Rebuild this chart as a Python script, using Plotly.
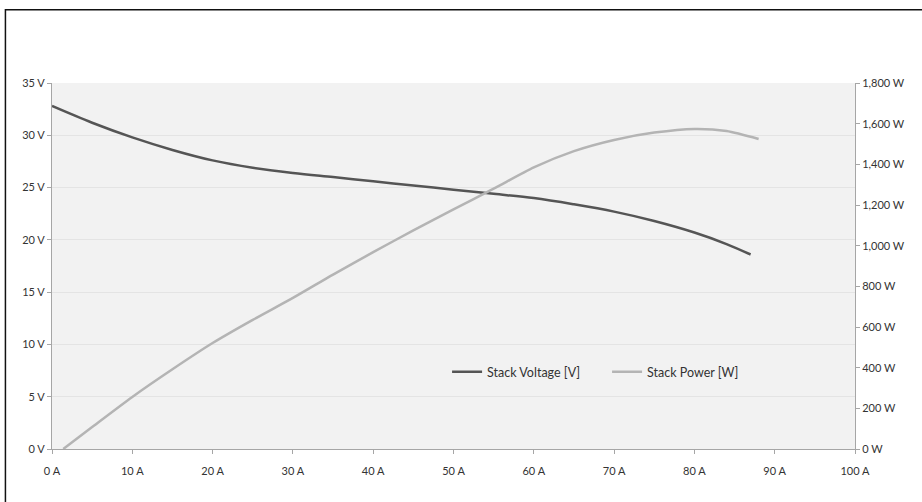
import plotly.graph_objects as go

current_v = [0, 5, 10, 15, 20, 25, 30, 35, 40, 45, 50, 55, 60, 65, 70, 75, 80, 84, 87]
voltage = [32.8, 31.2, 29.8, 28.6, 27.6, 26.9, 26.4, 26.0, 25.6, 25.2, 24.8, 24.4, 24.0, 23.4, 22.7, 21.8, 20.7, 19.6, 18.6]

current_p = [1.4, 5, 10, 15, 20, 25, 30, 35, 40, 45, 50, 55, 60, 65, 70, 75, 80, 84, 88]
power = [0, 108, 256, 392, 521, 635, 743, 858, 968, 1075, 1178, 1280, 1385, 1465, 1520, 1556, 1574, 1564, 1525]

FONT = "Lato"
TXT = "#333333"
AX = "#a6a6a6"

fig = go.Figure()
fig.add_trace(go.Scatter(x=current_v, y=voltage, mode="lines", name="Stack Voltage [V]",
                         line=dict(color="#555555", width=2.5, shape="spline", smoothing=1.0), yaxis="y"))
fig.add_trace(go.Scatter(x=current_p, y=power, mode="lines", name="Stack Power [W]",
                         line=dict(color="#b4b4b4", width=2.5, shape="spline", smoothing=0.7), yaxis="y2"))

fig.update_layout(
    width=922, height=502,
    margin=dict(l=52, r=67, t=83, b=53),
    paper_bgcolor="white",
    plot_bgcolor="#f2f2f2",
    font=dict(family=FONT, size=11, color=TXT),
    showlegend=True,
    legend=dict(orientation="h", x=0.492, y=0.21, xanchor="left", yanchor="middle",
                bgcolor="rgba(0,0,0,0)", font=dict(family=FONT, size=12.5, color=TXT),
                entrywidth=115, entrywidthmode="pixels", itemwidth=30),
    xaxis=dict(range=[0, 100], dtick=10, tick0=0, ticksuffix=" A", showgrid=False,
               showline=True, linecolor=AX, linewidth=1, ticks="outside", ticklen=4,
               tickcolor=AX, zeroline=False, fixedrange=True, ticklabelstandoff=8),
    yaxis=dict(range=[0, 35], dtick=5, tick0=0, ticksuffix=" V", showgrid=True,
               gridcolor="#e4e4e4", gridwidth=1, showline=True, linecolor=AX, linewidth=1,
               ticks="outside", ticklen=4, tickcolor=AX, zeroline=False, fixedrange=True),
    yaxis2=dict(range=[0, 1800], dtick=200, tick0=0, ticksuffix=" W", tickformat=",",
                overlaying="y", side="right", showgrid=False, showline=True, linecolor=AX,
                linewidth=1, ticks="outside", ticklen=4, tickcolor=AX, zeroline=False,
                fixedrange=True),
    shapes=[dict(type="rect", xref="paper", yref="paper", x0=-0.058, x1=1.2, y0=1.2, y1=-0.3,
                 line=dict(color="#111111", width=1.5), fillcolor="rgba(0,0,0,0)", layer="below")],
)

fig.write_html("out.html")
